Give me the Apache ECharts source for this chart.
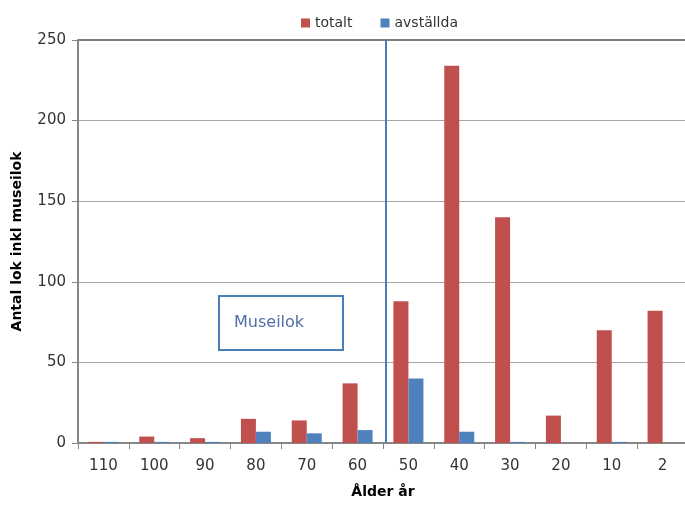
<!DOCTYPE html>
<html><head><meta charset="utf-8">
<script src="https://cdn.jsdelivr.net/npm/echarts@6/dist/echarts.min.js"></script>
<style>html,body{margin:0;padding:0;background:#fff}#c{width:685px;height:506px}</style>
</head><body><div id="c"></div>
<script>
const categories = ['110','100','90','80','70','60','50','40','30','20','10','2'];
const totalt =    [0.7, 4, 3, 15, 14, 37, 88, 234, 140, 17, 70, 82];
const avstallda = [0.7, 0.7, 0.7, 7, 6, 8, 40, 7, 0.7, 0, 0.7, 0];
const yTicks = [0, 50, 100, 150, 200, 250];
const museiLinePos = 6.06;

const chart = echarts.init(document.getElementById('c'), null, {renderer:'canvas'});
const font = 'DejaVu Sans';
chart.setOption({
  animation:false,
  legend:{
    top:11, left:296, itemWidth:9, itemHeight:9, itemGap:28, icon:'rect',
    textStyle:{fontFamily:font, fontSize:14, color:'#333'},
    data:['totalt','avställda']
  },
  grid:{left:78, top:40, right:-3, bottom:63, show:false,
        containLabel:false, outerBoundsMode:'none'},
  xAxis:[{
    type:'category', data:categories,
    name:'Ålder år', nameLocation:'middle', nameGap:42,
    nameTextStyle:{fontFamily:font, fontSize:14, fontWeight:'bold', color:'#000'},
    axisLine:{lineStyle:{color:'#868686', width:2}},
    axisTick:{show:true, length:6, lineStyle:{color:'#868686', width:1}},
    axisLabel:{fontFamily:font, fontSize:15, color:'#333', margin:16}
  },{
    type:'value', min:0, max:12, show:false
  }],
  yAxis:{
    type:'value', min:yTicks[0], max:yTicks[yTicks.length-1], interval:50,
    name:'Antal lok inkl museilok', nameLocation:'middle', nameGap:54,
    nameTextStyle:{fontFamily:font, fontSize:14, fontWeight:'bold', color:'#000'},
    axisLine:{show:true, lineStyle:{color:'#868686', width:2}},
    axisTick:{show:true, length:6, lineStyle:{color:'#868686'}},
    axisLabel:{fontFamily:font, fontSize:15, color:'#333', margin:12},
    splitLine:{lineStyle:{color:'#a6a6a6', width:1}}
  },
  series:[
    {name:'totalt', type:'bar', data:totalt, barWidth:15, barGap:'0%', itemStyle:{color:'#c0504d'}},
    {name:'avställda', type:'bar', data:avstallda, barWidth:15, barGap:'0%', itemStyle:{color:'#4f81bd'}},
    {type:'line', xAxisIndex:1, data:[], silent:true,
     markLine:{symbol:'none', silent:true, label:{show:false},
       data:[
         {yAxis:yTicks[yTicks.length-1], lineStyle:{color:'#7f7f7f', width:2, type:'solid'}},
         {xAxis:museiLinePos, lineStyle:{color:'#4a7ebb', width:2, type:'solid'}}
       ]}}
  ],
  graphic:[{
    type:'group', left:218, top:295,
    children:[
      {type:'rect', shape:{x:0,y:0,width:124,height:54}, style:{fill:'#fff', stroke:'#4a7ebb', lineWidth:2}},
      {type:'text', style:{x:15, y:27, text:'Museilok', verticalAlign:'middle', fontFamily:font, fontSize:16, fill:'#4f6fa8'}}
    ]
  }]
});
</script></body></html>
